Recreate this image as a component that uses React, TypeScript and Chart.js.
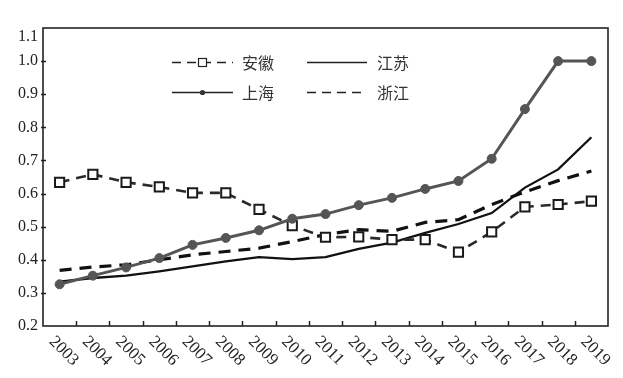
import React, { useEffect, useRef } from "react";
import { Chart, registerables } from "chart.js";

Chart.register(...registerables);

const years = ["2003","2004","2005","2006","2007","2008","2009","2010","2011","2012","2013","2014","2015","2016","2017","2018","2019"];
const anhui = [0.634,0.658,0.634,0.620,0.602,0.602,0.552,0.503,0.468,0.469,0.461,0.461,0.423,0.484,0.560,0.567,0.577];
const shanghai = [0.326,0.352,0.377,0.405,0.445,0.466,0.489,0.524,0.538,0.565,0.587,0.614,0.638,0.705,0.855,1.0,1.0];
const jiangsu = [0.334,0.345,0.352,0.365,0.380,0.395,0.408,0.402,0.408,0.433,0.452,0.481,0.508,0.541,0.618,0.673,0.770];
const zhejiang = [0.368,0.378,0.385,0.400,0.415,0.425,0.435,0.455,0.476,0.491,0.486,0.513,0.521,0.567,0.605,0.639,0.668];
const seriesNames = ["安徽", "上海", "江苏", "浙江"];
const yMin = 0.2;
const yMax = 1.1;
const yStep = 0.1;

const decorPlugin = {
  id: "decor",
  afterDraw(chart: any) {
    const ctx = chart.ctx;
    const { left, right, top, bottom } = chart.chartArea;
    const xs = chart.scales.x;
    const ys = chart.scales.y;
    ctx.save();
    ctx.strokeStyle = "#222";
    ctx.lineWidth = 1.6;
    ctx.setLineDash([]);
    ctx.strokeRect(left, top, right - left, bottom - top);
    ctx.lineWidth = 1.5;
    for (let i = 0; i < years.length - 1; i++) {
      const x = Math.round((xs.getPixelForValue(i) + xs.getPixelForValue(i + 1)) / 2) + 0.5;
      ctx.beginPath();
      ctx.moveTo(x, bottom);
      ctx.lineTo(x, bottom - 5);
      ctx.stroke();
    }
    ctx.fillStyle = "#222";
    ctx.font = '16px "Liberation Serif"';
    ctx.textAlign = "right";
    ctx.textBaseline = "middle";
    ys.ticks.forEach((t: any) => {
      const y = ys.getPixelForValue(t.value);
      if (y > top + 2 && y < bottom - 2) {
        ctx.beginPath();
        ctx.moveTo(left - 2, Math.round(y) + 0.5);
        ctx.lineTo(left + 3, Math.round(y) + 0.5);
        ctx.stroke();
      }
      const ly = Math.max(y, top + 9);
      ctx.fillText(Number(t.value).toFixed(1), left - 5, ly);
    });
    ctx.font = '17px "Liberation Serif"';
    ctx.textAlign = "left";
    ctx.textBaseline = "middle";
    years.forEach((lab, i) => {
      const x = xs.getPixelForValue(i);
      ctx.save();
      ctx.translate(x - 8, bottom + 13);
      ctx.rotate(Math.PI / 4);
      ctx.fillText(lab, 0, 0);
      ctx.restore();
    });
    const ds = chart.data.datasets;
    const entries = [
      { idx: 0, x0: 172, x1: 233, tx: 242, y: 62 },
      { idx: 2, x0: 307, x1: 367, tx: 377, y: 62 },
      { idx: 1, x0: 172, x1: 233, tx: 242, y: 92 },
      { idx: 3, x0: 307, x1: 367, tx: 377, y: 92 },
    ];
    entries.forEach((e) => {
      const d = ds[e.idx];
      ctx.strokeStyle = "#222";
      ctx.lineWidth = 1.3;
      ctx.setLineDash(d.borderDash && d.borderDash.length ? [9, 6] : []);
      ctx.beginPath();
      ctx.moveTo(e.x0, e.y + 0.5);
      ctx.lineTo(e.x1, e.y + 0.5);
      ctx.stroke();
      ctx.setLineDash([]);
      const cx = (e.x0 + e.x1) / 2;
      if (d.pointStyle === "rect" && d.pointRadius > 0) {
        ctx.fillStyle = "#fff";
        ctx.fillRect(cx - 4, e.y - 3.5, 8, 8);
        ctx.lineWidth = 1.2;
        ctx.strokeRect(cx - 4, e.y - 3.5, 8, 8);
      } else if (d.pointRadius > 0) {
        ctx.fillStyle = "#333";
        ctx.beginPath();
        ctx.arc(cx, e.y + 0.5, 2.6, 0, Math.PI * 2);
        ctx.fill();
      }
      ctx.fillStyle = "#333";
      ctx.font = '16px "Noto Sans CJK SC"';
      ctx.textAlign = "left";
      ctx.textBaseline = "middle";
      ctx.fillText(d.label, e.tx, e.y + 1);
    });
    ctx.restore();
  },
};

export default function App() {
  const ref = useRef<HTMLCanvasElement | null>(null);
  useEffect(() => {
    if (!ref.current) return;
    const chart = new Chart(ref.current, {
      type: "line",
      data: {
        labels: years,
        datasets: [
          {
            label: seriesNames[0],
            data: anhui,
            borderColor: "#2a2a2a",
            borderWidth: 2.6,
            borderDash: [10, 7],
            pointStyle: "rect",
            pointRadius: 6.5,
            pointBackgroundColor: "#fff",
            pointBorderColor: "#1a1a1a",
            pointBorderWidth: 2,
            order: 1,
          },
          {
            label: seriesNames[1],
            data: shanghai,
            borderColor: "#555",
            borderWidth: 3,
            pointStyle: "circle",
            pointRadius: 4.5,
            pointBackgroundColor: "#555",
            pointBorderColor: "#555",
            pointBorderWidth: 1,
            order: 0,
          },
          {
            label: seriesNames[2],
            data: jiangsu,
            borderColor: "#111",
            borderWidth: 2.3,
            pointRadius: 0,
            order: 2,
          },
          {
            label: seriesNames[3],
            data: zhejiang,
            borderColor: "#111",
            borderWidth: 3.2,
            borderDash: [12, 8],
            pointRadius: 0,
            order: 3,
          },
        ],
      },
      options: {
        animation: false,
        responsive: true,
        maintainAspectRatio: false,
        layout: { padding: { left: 0, top: 28, right: 15, bottom: 0 } },
        plugins: { legend: { display: false }, tooltip: { enabled: false }, title: { display: false } },
        scales: {
          x: {
            type: "category",
            offset: true,
            grid: { display: false },
            border: { display: false },
            ticks: { display: false },
            afterFit: (s: any) => { s.height = 52; },
          },
          y: {
            min: yMin,
            max: yMax,
            grid: { display: false },
            border: { display: false },
            ticks: { display: false, stepSize: yStep },
            afterFit: (s: any) => { s.width = 43; },
          },
        },
      },
      plugins: [decorPlugin],
    });
    return () => chart.destroy();
  }, []);
  return (
    <div style={{ position: "fixed", left: 0, top: 0, width: 623, height: 378, background: "#fff" }}>
      <canvas ref={ref} />
    </div>
  );
}
